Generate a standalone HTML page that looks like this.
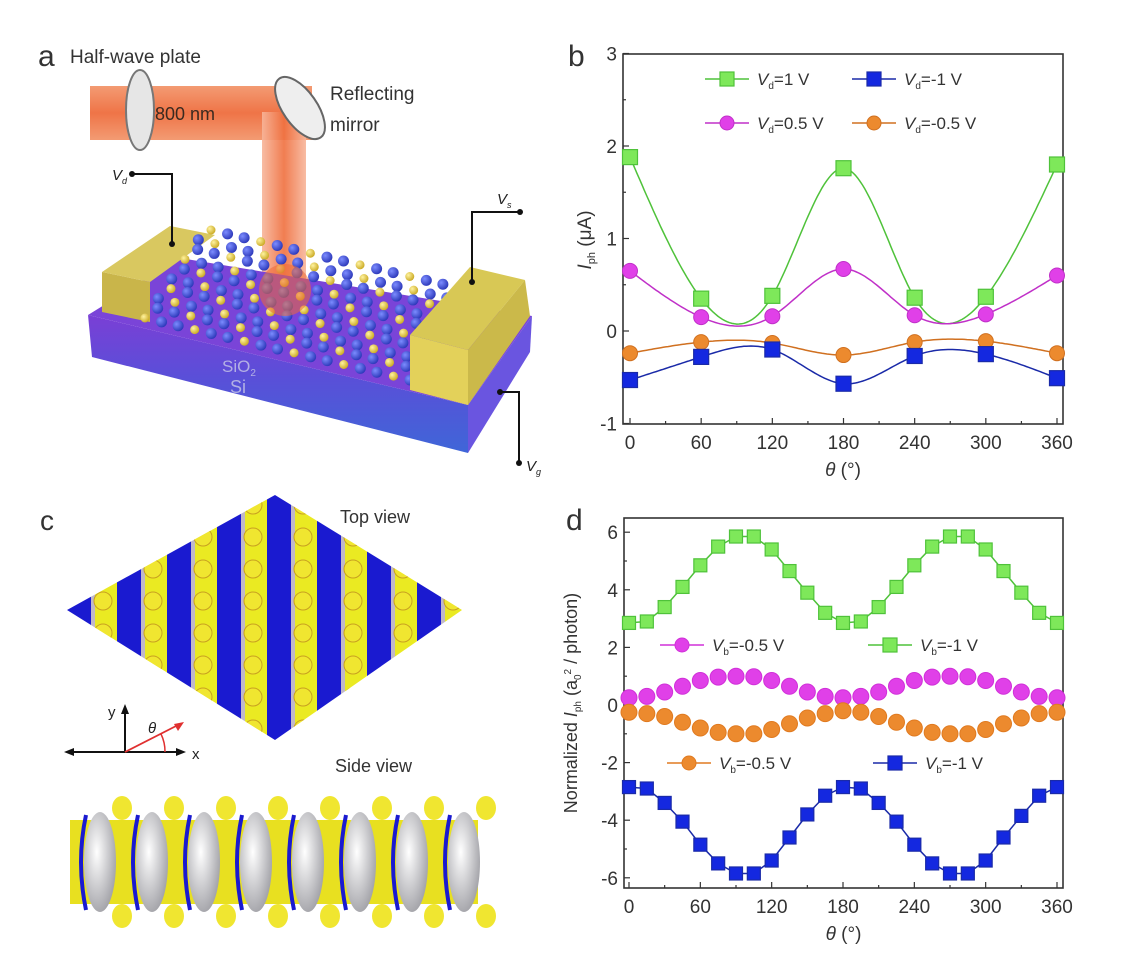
<!DOCTYPE html>
<html><head><meta charset="utf-8">
<style>
html,body{margin:0;padding:0;background:#fff;}
svg{display:block;font-family:"Liberation Sans",sans-serif;}
</style></head>
<body>
<svg id="fig" width="1134" height="976" viewBox="0 0 1134 976">
<defs>
<linearGradient id="beamH" x1="0" y1="0" x2="0" y2="1"><stop offset="0" stop-color="#f39b73"/><stop offset="0.5" stop-color="#ef7447"/><stop offset="1" stop-color="#f39b73"/></linearGradient>
<linearGradient id="beamV" x1="0" y1="0" x2="1" y2="0"><stop offset="0" stop-color="#f7b59a"/><stop offset="0.5" stop-color="#ef6f3e"/><stop offset="1" stop-color="#f7b59a"/></linearGradient>
<linearGradient id="sub" x1="0" y1="0" x2="0" y2="1"><stop offset="0" stop-color="#7a3fd6"/><stop offset="0.45" stop-color="#5a4fd8"/><stop offset="1" stop-color="#3f66d8"/></linearGradient>
<radialGradient id="ballB" cx="0.35" cy="0.35" r="0.7"><stop offset="0" stop-color="#7c8cff"/><stop offset="1" stop-color="#2a36b8"/></radialGradient>
<radialGradient id="ballY" cx="0.35" cy="0.35" r="0.7"><stop offset="0" stop-color="#fff3a0"/><stop offset="1" stop-color="#c9a820"/></radialGradient>
<radialGradient id="grey" cx="0.4" cy="0.4" r="0.7"><stop offset="0" stop-color="#ffffff"/><stop offset="1" stop-color="#9a9aa0"/></radialGradient>
</defs>

<!-- ===== Panel a ===== -->
<g>
<text x="38" y="66" font-size="30" fill="#333">a</text>
<text x="70" y="63" font-size="19" fill="#333">Half-wave plate</text>
<rect x="90" y="86" width="222" height="54" fill="url(#beamH)"/>
<rect x="262" y="112" width="44" height="180" fill="url(#beamV)" opacity="0.9"/>
<ellipse cx="140" cy="110" rx="14" ry="40" fill="#e6e6e6" stroke="#777" stroke-width="2"/>
<ellipse cx="300" cy="108" rx="17" ry="36" fill="#eeeeee" stroke="#666" stroke-width="2" transform="rotate(-35 300 108)"/>
<text x="155" y="120" font-size="18" fill="#3a2a20">800 nm</text>
<text x="330" y="100" font-size="19" fill="#333">Reflecting</text>
<text x="330" y="131" font-size="19" fill="#333">mirror</text>
<!-- substrate -->
<polygon points="88,315 468,405 468,453 92,357" fill="url(#sub)"/>
<polygon points="468,405 532,316 530,352 468,453" fill="#6a55e0"/>
<polygon points="88,315 468,405 532,316 180,258" fill="#7a44d8"/>
<!-- left electrode -->
<polygon points="102,272 150,282 150,322 102,312" fill="#c9b54a"/>
<polygon points="102,272 150,282 215,235 170,226" fill="#d9c860"/>
<g id="atoms"></g>
<ellipse cx="285" cy="290" rx="26" ry="26" fill="#ef6a35" opacity="0.55"/>
<!-- right electrode -->
<polygon points="410,335 468,350 468,405 410,390" fill="#e3d15a"/>
<polygon points="410,335 468,350 525,280 470,267" fill="#d8c855"/>
<polygon points="468,350 525,280 530,316 468,405" fill="#cbb94a"/>
<text x="222" y="372" font-size="17" fill="#c8c8e8" opacity="0.8">SiO<tspan font-size="10" dy="4">2</tspan></text>
<text x="230" y="393" font-size="18" fill="#c8c8e8" opacity="0.8">Si</text>
<!-- wires -->
<polyline points="132,174 172,174 172,244" fill="none" stroke="#111" stroke-width="2"/>
<circle cx="132" cy="174" r="3" fill="#111"/><circle cx="172" cy="244" r="3" fill="#111"/>
<text x="112" y="180" font-size="15" font-style="italic" fill="#222">V<tspan font-size="9" dy="4">d</tspan></text>
<polyline points="520,212 472,212 472,282" fill="none" stroke="#111" stroke-width="2"/>
<circle cx="520" cy="212" r="3" fill="#111"/><circle cx="472" cy="282" r="3" fill="#111"/>
<text x="497" y="204" font-size="15" font-style="italic" fill="#222">V<tspan font-size="9" dy="4">s</tspan></text>
<polyline points="500,392 519,392 519,463" fill="none" stroke="#111" stroke-width="2"/>
<circle cx="500" cy="392" r="3" fill="#111"/><circle cx="519" cy="463" r="3" fill="#111"/>
<text x="526" y="471" font-size="15" font-style="italic" fill="#222">V<tspan font-size="9" dy="4">g</tspan></text>
</g>

<!-- ===== Panel c ===== -->
<g>
<text x="40" y="530" font-size="28" fill="#333">c</text>
<clipPath id="diamond"><polygon points="67,610 275,495 462,610 275,740"/></clipPath>
<g id="stripes" clip-path="url(#diamond)"></g>
<text x="340" y="523" font-size="18" fill="#333">Top view</text>
<line x1="125" y1="752" x2="125" y2="712" stroke="#111" stroke-width="2"/>
<polygon points="125,704 121,714 129,714" fill="#111"/>
<line x1="72" y1="752" x2="178" y2="752" stroke="#111" stroke-width="2"/>
<polygon points="64,752 74,748 74,756" fill="#111"/><polygon points="186,752 176,748 176,756" fill="#111"/>
<line x1="125" y1="752" x2="180" y2="724" stroke="#e03030" stroke-width="1.8"/>
<polygon points="184,722 174,724 178,731" fill="#e03030"/>
<path d="M161,734 A40,40 0 0 1 165,752" fill="none" stroke="#e03030" stroke-width="1.5"/>
<text x="108" y="717" font-size="15" fill="#222">y</text>
<text x="192" y="759" font-size="15" fill="#222">x</text>
<text x="148" y="733" font-size="15" font-style="italic" fill="#222">θ</text>
<text x="335" y="772" font-size="18" fill="#333">Side view</text>
<g id="side"></g>
</g>

<!-- ===== Panel b ===== -->
<g id="panelB">
<text x="568" y="66" font-size="30" fill="#333">b</text>
</g>
<!-- ===== Panel d ===== -->
<g id="panelD">
<text x="566" y="530" font-size="30" fill="#333">d</text>
</g>
</svg>

<script>
// ---------- Panel b data ----------
const bAngles = [0, 60, 120, 180, 240, 300, 360];
const bVd1 = [1.88, 0.35, 0.38, 1.76, 0.36, 0.37, 1.80];
const bVd05 = [0.65, 0.15, 0.16, 0.67, 0.17, 0.18, 0.60];
const bVdm05 = [-0.24, -0.12, -0.13, -0.26, -0.12, -0.11, -0.24];
const bVdm1 = [-0.53, -0.28, -0.20, -0.57, -0.27, -0.25, -0.51];
const bYTicks = [-1, 0, 1, 2, 3];
const xTicks = [0, 60, 120, 180, 240, 300, 360];

// ---------- Panel d data ----------
const dAngles = [0,15,30,45,60,75,90,105,120,135,150,165,180,195,210,225,240,255,270,285,300,315,330,345,360];
const dGreen = [2.85,2.9,3.4,4.1,4.85,5.5,5.85,5.85,5.4,4.65,3.9,3.2,2.85,2.9,3.4,4.1,4.85,5.5,5.85,5.85,5.4,4.65,3.9,3.2,2.85];
const dBlue = [-2.85,-2.9,-3.4,-4.05,-4.85,-5.5,-5.85,-5.85,-5.4,-4.6,-3.8,-3.15,-2.85,-2.9,-3.4,-4.05,-4.85,-5.5,-5.85,-5.85,-5.4,-4.6,-3.85,-3.15,-2.85];
const dMagenta = [0.25,0.3,0.45,0.65,0.85,0.97,1.0,0.98,0.85,0.65,0.45,0.3,0.25,0.3,0.45,0.65,0.85,0.97,1.0,0.98,0.85,0.65,0.45,0.3,0.25];
const dOrange = [-0.25,-0.3,-0.4,-0.6,-0.8,-0.95,-1.0,-1.0,-0.85,-0.65,-0.45,-0.3,-0.2,-0.25,-0.4,-0.6,-0.8,-0.95,-1.0,-1.0,-0.85,-0.65,-0.45,-0.3,-0.25];
const dYTicks = [-6, -4, -2, 0, 2, 4, 6];

const NS = "http://www.w3.org/2000/svg";
function mk(tag, attrs, parent) {
  const e = document.createElementNS(NS, tag);
  for (const k in attrs) e.setAttribute(k, attrs[k]);
  parent.appendChild(e);
  return e;
}

// natural cubic spline
function spline(xs, ys) {
  const n = xs.length, h = [], al = [0], l = [1], mu = [0], z = [0], c = new Array(n).fill(0), b = [], d = [];
  for (let i = 0; i < n - 1; i++) h.push(xs[i+1] - xs[i]);
  for (let i = 1; i < n - 1; i++) al.push(3/h[i]*(ys[i+1]-ys[i]) - 3/h[i-1]*(ys[i]-ys[i-1]));
  for (let i = 1; i < n - 1; i++) { l[i] = 2*(xs[i+1]-xs[i-1]) - h[i-1]*mu[i-1]; mu[i] = h[i]/l[i]; z[i] = (al[i]-h[i-1]*z[i-1])/l[i]; }
  for (let j = n - 2; j >= 0; j--) { c[j] = (z[j]||0) - (mu[j]||0)*c[j+1]; b[j] = (ys[j+1]-ys[j])/h[j] - h[j]*(c[j+1]+2*c[j])/3; d[j] = (c[j+1]-c[j])/(3*h[j]); }
  return x => { let i = Math.min(n - 2, Math.max(0, xs.findIndex((v, k) => k < n-1 && x <= xs[k+1]))); const dx = x - xs[i]; return ys[i] + b[i]*dx + c[i]*dx*dx + d[i]*dx*dx*dx; };
}

function marker(g, shape, cx, cy, fill, stroke, s) {
  if (shape === 'sq') return mk('rect', {x: cx - s/2, y: cy - s/2, width: s, height: s, fill: fill, stroke: stroke, 'stroke-width': 1.2}, g);
  return mk('circle', {cx: cx, cy: cy, r: s/2, fill: fill, stroke: stroke, 'stroke-width': 1}, g);
}

function frame(g, L, T, R, B, xs, yTicks, ys, prefix) {
  const f = mk('rect', {x: L, y: T, width: R-L, height: B-T, fill: 'none', stroke: '#333', 'stroke-width': 1.6}, g);
  
  
  for (let v = 0; v <= 360; v += 30) {
    const len = v % 60 === 0 ? 6 : 3;
    mk('line', {x1: xs(v), x2: xs(v), y1: B, y2: B - len, stroke: '#333', 'stroke-width': 1.2}, g);
  }
  xTicks.forEach(v => {
    const t = mk('text', {x: xs(v), y: B + 25, 'font-size': 19, 'text-anchor': 'middle', fill: '#333'}, g);
    t.textContent = v;
    
    
  });
  yTicks.forEach(v => {
    mk('line', {x1: L, x2: L + 6, y1: ys(v), y2: ys(v), stroke: '#333', 'stroke-width': 1.2}, g);
    const t = mk('text', {x: L - 6, y: ys(v) + 7, 'font-size': 19, 'text-anchor': 'end', fill: '#333'}, g);
    t.textContent = v;
    
    
  });
  for (let i = 0; i < yTicks.length - 1; i++) {
    const m = (yTicks[i] + yTicks[i+1]) / 2;
    mk('line', {x1: L, x2: L + 3, y1: ys(m), y2: ys(m), stroke: '#333', 'stroke-width': 1.2}, g);
  }
  const xt = mk('text', {x: (L+R)/2, y: B + 52, 'font-size': 19, 'text-anchor': 'middle', fill: '#333'}, g);
  xt.innerHTML = '<tspan font-style="italic">θ</tspan> (°)';
  
  
}

function legend(g, x, y, shape, fill, stroke, sub, label, name) {
  const lg = mk('g', {}, g);
  
  
  mk('line', {x1: x, x2: x + 44, y1: y, y2: y, stroke: stroke, 'stroke-width': 1.5}, lg);
  marker(lg, shape, x + 22, y, fill, stroke, 14);
  const t = mk('text', {x: x + 52, y: y + 6, 'font-size': 17, fill: '#333'}, lg);
  t.innerHTML = '<tspan font-style="italic">V</tspan><tspan font-size="10" dy="4">' + sub + '</tspan><tspan dy="-4">' + label + '</tspan>';
}

// ---------- Panel b ----------
(function() {
  const g = document.getElementById('panelB');
  const L = 623, R = 1063, T = 54, B = 424;
  const xs = v => 630 + (v / 360) * 427;
  const ys = v => 331 - v * 92.5;
  frame(g, L, T, R, B, xs, bYTicks, ys, 'b');
  const yt = mk('text', {x: 0, y: 0, 'font-size': 19, 'text-anchor': 'middle', fill: '#333', transform: 'translate(591,240) rotate(-90)'}, g);
  yt.innerHTML = '<tspan font-style="italic">I</tspan><tspan font-size="11" dy="4">ph</tspan><tspan dy="-4"> (μA)</tspan>';
  
  
  const series = [
    [bVd1, 'sq', '#7ee85a', '#4fc23a', 'b-series-vd-1v'],
    [bVd05, 'ci', '#e040e8', '#c030c8', 'b-series-vd-0.5v'],
    [bVdm05, 'ci', '#ec8a2e', '#d07020', 'b-series-vd-neg0.5v'],
    [bVdm1, 'sq', '#1428e0', '#1a2aa8', 'b-series-vd-neg1v']
  ];
  series.forEach(([vals, shape, fill, stroke, name]) => {
    const sg = mk('g', {}, g);
    
    
    const f = spline(bAngles, vals);
    let d = '';
    for (let a = 0; a <= 360; a += 2) d += (a ? 'L' : 'M') + xs(a).toFixed(1) + ',' + ys(f(a)).toFixed(1);
    mk('path', {d: d, fill: 'none', stroke: stroke, 'stroke-width': 1.5}, sg);
    bAngles.forEach((a, i) => marker(sg, shape, xs(a), ys(vals[i]), fill, stroke, 15));
  });
  legend(g, 705, 79, 'sq', '#7ee85a', '#4fc23a', 'd', '=1 V', 'b-legend-vd-1v');
  legend(g, 852, 79, 'sq', '#1428e0', '#1a2aa8', 'd', '=-1 V', 'b-legend-vd-neg1v');
  legend(g, 705, 123, 'ci', '#e040e8', '#c030c8', 'd', '=0.5 V', 'b-legend-vd-0.5v');
  legend(g, 852, 123, 'ci', '#ec8a2e', '#d07020', 'd', '=-0.5 V', 'b-legend-vd-neg0.5v');
})();

// ---------- Panel d ----------
(function() {
  const g = document.getElementById('panelD');
  const L = 624, R = 1063, T = 518, B = 888;
  const xs = v => 629 + (v / 360) * 428;
  const ys = v => 705 - v * 28.8;
  frame(g, L, T, R, B, xs, dYTicks, ys, 'd');
  const yt = mk('text', {x: 0, y: 0, 'font-size': 18, 'text-anchor': 'middle', fill: '#333', transform: 'translate(577,703) rotate(-90)'}, g);
  yt.innerHTML = 'Normalized <tspan font-style="italic">I</tspan><tspan font-size="10" dy="4">ph</tspan><tspan dy="-4"> (a</tspan><tspan font-size="10" dy="4">0</tspan><tspan font-size="10" dy="-10">2</tspan><tspan dy="6"> / photon)</tspan>';
  
  
  const series = [
    [dGreen, 'sq', '#7ee85a', '#4fc23a', 'd-series-green', true],
    [dBlue, 'sq', '#1428e0', '#1a2aa8', 'd-series-blue', true],
    [dMagenta, 'ci', '#e040e8', '#d030d8', 'd-series-magenta', false],
    [dOrange, 'ci', '#ec8a2e', '#e07a20', 'd-series-orange', false]
  ];
  series.forEach(([vals, shape, fill, stroke, name, line]) => {
    const sg = mk('g', {}, g);
    
    
    if (line) {
      let d = '';
      dAngles.forEach((a, i) => d += (i ? 'L' : 'M') + xs(a).toFixed(1) + ',' + ys(vals[i]).toFixed(1));
      mk('path', {d: d, fill: 'none', stroke: stroke, 'stroke-width': 1.5}, sg);
    }
    dAngles.forEach((a, i) => marker(sg, shape, xs(a), ys(vals[i]), fill, stroke, shape === 'sq' ? 13 : 16));
  });
  legend(g, 660, 645, 'ci', '#e040e8', '#d030d8', 'b', '=-0.5 V', 'd-legend-magenta');
  legend(g, 868, 645, 'sq', '#7ee85a', '#4fc23a', 'b', '=-1 V', 'd-legend-green');
  legend(g, 667, 763, 'ci', '#ec8a2e', '#e07a20', 'b', '=-0.5 V', 'd-legend-orange');
  legend(g, 873, 763, 'sq', '#1428e0', '#1a2aa8', 'b', '=-1 V', 'd-legend-blue');
})();

// ---------- decorative: atoms in panel a ----------
(function() {
  const g = document.getElementById('atoms');
  const nu = 16, nv = 9;
  for (let j = nv; j >= 0; j--) {
    for (let i = 0; i <= nu; i++) {
      const u = i / nu, v = j / nv;
      const x = 145 + u * 265 + v * 60 + (j % 2) * 6;
      const y = 318 + u * 62 - v * 88;
      const blue = (i + j) % 3 !== 0;
      mk('circle', {cx: x, cy: y, r: blue ? 5.5 : 4.5, fill: blue ? 'url(#ballB)' : 'url(#ballY)'}, g);
    }
  }
})();

// ---------- decorative: top view stripes ----------
(function() {
  const g = document.getElementById('stripes');
  for (let i = 0; i < 9; i++) {
    const x = 67 + i * 50;
    mk('rect', {x: x, y: 490, width: 24, height: 260, fill: '#1a1ad0'}, g);
    mk('rect', {x: x + 24, y: 490, width: 4, height: 260, fill: '#c0b8c8'}, g);
    mk('rect', {x: x + 28, y: 490, width: 22, height: 260, fill: '#eaea22'}, g);
    for (let k = 0; k < 8; k++) mk('circle', {cx: x + 36, cy: 505 + k * 32, r: 9, fill: '#f0e630', stroke: '#c8a020', 'stroke-width': 1}, g);
  }
})();

// ---------- decorative: side view ----------
(function() {
  const g = document.getElementById('side');
  mk('rect', {x: 70, y: 820, width: 408, height: 84, fill: '#e8e020'}, g);
  for (let i = 0; i < 8; i++) {
    const x = 100 + i * 52;
    mk('ellipse', {cx: x, cy: 862, rx: 16, ry: 50, fill: 'url(#grey)'}, g);
    mk('path', {d: 'M' + (x - 14) + ',815 Q' + (x - 24) + ',862 ' + (x - 14) + ',910', fill: 'none', stroke: '#1a1ad0', 'stroke-width': 4}, g);
    mk('ellipse', {cx: x + 22, cy: 808, rx: 10, ry: 12, fill: '#f0e630'}, g);
    mk('ellipse', {cx: x + 22, cy: 916, rx: 10, ry: 12, fill: '#f0e630'}, g);
  }
})();
</script>
</body></html>
